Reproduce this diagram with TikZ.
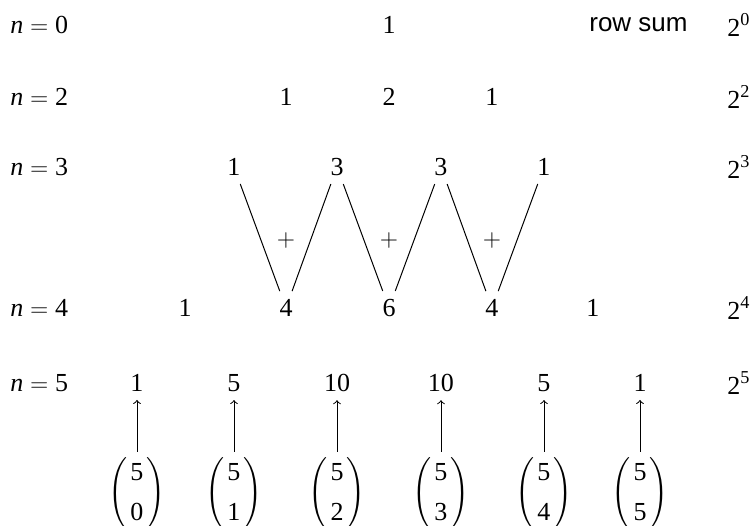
\documentclass[tikz,border=0pt]{standalone}
\usepackage{amsmath}
\usepackage{fontspec}
\setmainfont{Liberation Serif}
\setsansfont{Liberation Sans}
\begin{document}
\begin{tikzpicture}[x=0.5pt,y=-0.5pt,
  every node/.style={font=\fontsize{13}{15.6}\selectfont},
  entry/.style={inner sep=3.5pt},
  rowlabel/.style={anchor=west,inner sep=0pt},
  sumlabel/.style={anchor=west,inner sep=0pt},
  binomnode/.style={inner sep=3pt},
  addline/.style={line width=0.5pt,shorten <=0.5pt,shorten >=0.5pt},
  uparrow/.style={line width=0.5pt,->,shorten >=0.5pt}]
\useasboundingbox (0,0) rectangle (752,526);

% row labels
\node[rowlabel] (l0) at (10,25)  {$\textit{n}=\text{0}$};
\node[rowlabel] (l2) at (10,97)  {$\textit{n}=\text{2}$};
\node[rowlabel] (l3) at (10,167) {$\textit{n}=\text{3}$};
\node[rowlabel] (l4) at (10,308) {$\textit{n}=\text{4}$};
\node[rowlabel] (l5) at (10,383) {$\textit{n}=\text{5}$};

% row sums
\node[font=\sffamily\fontsize{13}{15.6}\selectfont,anchor=east,inner sep=0pt] (rs) at (688,25) {row sum};
\node[sumlabel] (s0) at (727,25)  {$\text{2}^{\text{0}}$};
\node[sumlabel] (s2) at (727,97)  {$\text{2}^{\text{2}}$};
\node[sumlabel] (s3) at (727,167) {$\text{2}^{\text{3}}$};
\node[sumlabel] (s4) at (727,308) {$\text{2}^{\text{4}}$};
\node[sumlabel] (s5) at (727,383) {$\text{2}^{\text{5}}$};

% n = 0
\node[entry] (r0a) at (389,25) {1};
% n = 2
\node[entry] (r2a) at (286,97) {1};
\node[entry] (r2b) at (389,97) {2};
\node[entry] (r2c) at (492,97) {1};
% n = 3
\node[entry] (r3a) at (234,167) {1};
\node[entry] (r3b) at (337,167) {3};
\node[entry] (r3c) at (441,167) {3};
\node[entry] (r3d) at (544,167) {1};
% n = 4
\node[entry] (r4a) at (185,308) {1};
\node[entry] (r4b) at (286,308) {4};
\node[entry] (r4c) at (389,308) {6};
\node[entry] (r4d) at (492,308) {4};
\node[entry] (r4e) at (593,308) {1};
% n = 5
\node[entry] (r5a) at (137,383) {1};
\node[entry] (r5b) at (234,383) {5};
\node[entry] (r5c) at (337,383) {10};
\node[entry] (r5d) at (441,383) {10};
\node[entry] (r5e) at (544,383) {5};
\node[entry] (r5f) at (640,383) {1};

% sums of neighbours
\draw[addline] (r3a) -- (r4b);
\draw[addline] (r3b) -- (r4b);
\draw[addline] (r3b) -- (r4c);
\draw[addline] (r3c) -- (r4c);
\draw[addline] (r3c) -- (r4d);
\draw[addline] (r3d) -- (r4d);
\node (p1) at (286,240) {$+$};
\node (p2) at (389,240) {$+$};
\node (p3) at (492,240) {$+$};

% binomial coefficients
\foreach \k/\x/\t in {0/137/r5a,1/234/r5b,2/337/r5c,3/441/r5d,4/544/r5e,5/640/r5f}{
  \node[binomnode] (b\k) at (\x,494)
    {$\left(\begin{tabular}{@{\hspace{1.5pt}}c@{\hspace{1.5pt}}}5\\[4.4pt]\k\end{tabular}\right)$};
  \draw[uparrow] (b\k) -- (\t);
}
\end{tikzpicture}
\end{document}
